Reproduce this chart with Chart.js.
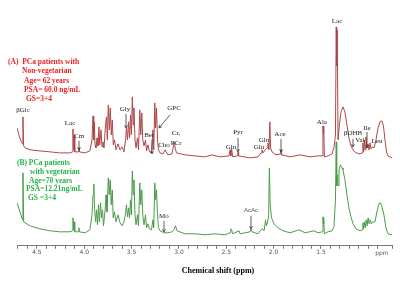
<!DOCTYPE html>
<html>
<head>
<meta charset="utf-8">
<script src="https://cdn.jsdelivr.net/npm/chart.js@4"></script>
<style>
  html, body { margin: 0; padding: 0; background: #fff; }
  canvas { display: block; }
</style>
</head>
<body>
<canvas id="nmr" width="400" height="300"></canvas>
<script>
// --- spectra: [ppm, intensity] ---
const spectrumA = [
  [4.71,118],[4.69,111],[4.668,105],[4.652,102],[4.647,129],[4.64,100],[4.625,98],[4.57,96],[4.47,95],[4.36,94],[4.26,93],[4.15,93],
  [4.124,94],[4.119,117],[4.113,96],[4.107,111],[4.10,94],[4.06,94],[4.055,98],[4.05,94],[3.99,93],[3.94,95],
  [3.918,106],[3.907,130],[3.90,106],[3.894,124],[3.886,101],[3.876,98],[3.865,108],[3.855,100],[3.845,119],[3.836,101],
  [3.823,116],[3.812,99],[3.802,104],[3.791,98],[3.775,121],[3.765,129],[3.756,106],[3.746,141],[3.735,116],[3.725,138],
  [3.714,111],[3.704,126],[3.693,101],[3.68,106],[3.665,96],[3.643,102],[3.622,96],[3.601,99],[3.58,94],[3.564,106],
  [3.554,118],[3.543,106],[3.532,124],[3.522,108],[3.511,131],[3.502,111],[3.492,149],[3.483,121],[3.475,138],[3.464,106],
  [3.453,98],[3.438,108],[3.427,96],[3.413,136],[3.403,111],[3.392,133],[3.382,106],[3.369,100],[3.353,106],[3.342,95],
  [3.327,101],[3.311,94],[3.29,93],[3.274,116],[3.266,96],[3.255,143],[3.247,118],[3.237,138],[3.226,106],[3.216,96],
  [3.2,93],[3.168,92],[3.147,96],[3.116,91],[3.073,92],[3.057,100],[3.05,104],[3.04,98],[3.026,93],[2.936,91],[2.83,90],
  [2.725,89],[2.65,91],[2.566,89],[2.471,90],[2.46,96],[2.452,90],[2.443,97],[2.433,89],[2.38,90],[2.375,94],[2.37,90],
  [2.25,88],[2.165,89],[2.133,93],[2.123,96],[2.112,93],[2.091,96],[2.07,98],[2.06,103],[2.049,96],[2.04,124],[2.032,98],
  [2.017,94],[1.975,91],[1.927,92],[1.922,96],[1.916,91],[1.827,89],[1.72,91],[1.616,89],[1.532,90],[1.486,90],[1.479,120],
  [1.475,112],[1.471,120],[1.464,89],[1.426,90],[1.384,92],[1.363,98],[1.347,111],[1.339,219],[1.334,180],[1.328,216],
  [1.32,106],[1.305,121],[1.289,134],[1.268,139],[1.247,134],[1.226,121],[1.205,108],[1.183,100],[1.162,96],[1.13,93],
  [1.088,92],[1.062,93],[1.057,103],[1.05,94],[1.042,106],[1.035,96],[1.025,109],[1.017,98],[1.004,102],[0.993,96],
  [0.983,103],[0.972,97],[0.956,99],[0.94,98],[0.919,106],[0.898,118],[0.877,124],[0.856,125],[0.84,120],[0.824,106],
  [0.808,94],[0.792,90],[0.75,88]
];

const spectrumB = [
  [4.71,43],[4.69,37],[4.668,31],[4.652,26],[4.647,73],[4.64,24],[4.625,23],[4.57,20],[4.47,17],[4.36,15],[4.26,14],[4.15,14],
  [4.124,15],[4.119,28],[4.113,16],[4.107,24],[4.10,14],[4.06,14],[4.056,18],[4.05,14],[3.99,13],[3.94,16],[3.918,31],
  [3.907,51],[3.899,62],[3.89,36],[3.88,24],[3.87,36],[3.86,21],[3.85,41],[3.84,24],[3.828,43],[3.818,28],[3.807,36],
  [3.797,20],[3.781,34],[3.77,51],[3.76,34],[3.746,68],[3.736,51],[3.726,66],[3.715,41],[3.704,56],[3.694,28],[3.68,34],
  [3.665,24],[3.643,31],[3.622,23],[3.601,20],[3.58,24],[3.564,32],[3.554,41],[3.543,29],[3.532,38],[3.522,28],[3.511,46],
  [3.502,31],[3.492,75],[3.483,51],[3.475,66],[3.464,31],[3.453,21],[3.438,31],[3.427,20],[3.413,63],[3.403,41],[3.392,56],
  [3.382,31],[3.369,21],[3.353,31],[3.342,18],[3.327,22],[3.311,17],[3.29,16],[3.274,26],[3.266,18],[3.255,63],[3.247,46],
  [3.237,56],[3.226,31],[3.216,18],[3.2,15],[3.158,13],[3.116,13],[3.073,14],[3.052,16],[3.036,20],[3.02,15],[2.936,12],
  [2.83,12],[2.725,11],[2.62,12],[2.514,11],[2.46,13],[2.452,17],[2.443,16],[2.433,12],[2.365,15],[2.355,12],[2.25,14],
  [2.239,17],[2.229,14],[2.165,12],[2.133,16],[2.117,17],[2.101,15],[2.085,26],[2.076,20],[2.064,24],[2.053,30],[2.045,78],
  [2.036,41],[2.022,28],[1.995,22],[1.953,18],[1.9,15],[1.827,13],[1.732,16],[1.669,13],[1.574,15],[1.532,13],[1.486,14],
  [1.479,29],[1.475,22],[1.471,28],[1.464,12],[1.426,14],[1.384,15],[1.363,19],[1.347,46],[1.339,104],[1.334,60],[1.328,71],
  [1.318,60],[1.31,76],[1.295,81],[1.278,78],[1.268,76],[1.247,66],[1.226,51],[1.205,38],[1.183,29],[1.162,22],[1.13,17],
  [1.088,15],[1.062,16],[1.057,23],[1.05,17],[1.042,24],[1.033,18],[1.022,26],[1.013,20],[1.002,28],[0.991,22],[0.98,26],
  [0.967,22],[0.951,24],[0.93,24],[0.909,34],[0.888,42],[0.872,43],[0.856,39],[0.835,31],[0.814,18],[0.792,12],[0.75,11]
];

const tickPpm = [4.5, 4.0, 3.5, 3.0, 2.5, 2.0, 1.5];

const legendA = ['(A)  PCa patients with', 'Non-vegetarian', 'Age= 62 years', 'PSA= 60.0 ng/mL', 'GS=3+4'];
const legendB = ['(B) PCa patients', 'with vegetarian', 'Age=70 years', 'PSA=12.21ng/mL', 'GS =3+4'];

// metabolite labels: text, ppm, intensity (label centre)
const peakNames = ['βGlc', 'Lac', 'Cm', 'Gly', 'GPC', 'Bet', 'Cho', 'Cr,', 'PCr', 'Gln', 'Pyr', 'Gln', 'Glu', 'Ace',
                   'Ala', 'Lac', 'βOHB', 'Val', 'Ile', 'Leu', 'Mo'];
const peakPpm   = [4.647, 4.15, 4.055, 3.57, 3.052, 3.316, 3.158, 3.03, 3.03, 2.45, 2.376, 2.102, 2.155, 1.933,
                   1.49, 1.33, 1.162, 1.088, 1.014, 0.909, 3.158];
const peakAt    = [136, 123, 110, 137, 138, 111, 101, 113, 103, 99, 114, 106, 99, 112,
                   124, 225, 113, 106, 118, 105, 30];

// arrows: [ppm from, int from, ppm to, int to]
const arrows = [
  [4.055, 105, 4.055, 96], [3.559, 132, 3.559, 118], [3.094, 131, 3.21, 118], [3.284, 106, 3.284, 92],
  [2.376, 108, 2.376, 94], [1.922, 107, 1.922, 94], [1.162, 107, 1.162, 99], [1.014, 114, 1.014, 98],
  [3.158, 25, 3.158, 14], [2.239, 30, 2.239, 17]
];

function arrow(ctx, x1, y1, x2, y2) {
  const a = Math.atan2(y2 - y1, x2 - x1), h = 3;
  ctx.beginPath();
  ctx.moveTo(x1, y1); ctx.lineTo(x2, y2);
  ctx.moveTo(x2 - h * Math.cos(a - 0.5), y2 - h * Math.sin(a - 0.5));
  ctx.lineTo(x2, y2);
  ctx.lineTo(x2 - h * Math.cos(a + 0.5), y2 - h * Math.sin(a + 0.5));
  ctx.stroke();
}

const notes = {
  id: 'notes',
  afterDraw(chart) {
    const { ctx, scales: { x, y } } = chart;
    ctx.save();
    ctx.textBaseline = 'middle';

    // legend blocks
    ctx.font = 'bold 7.5px "Liberation Serif"';
    ctx.fillStyle = '#f01e1e';
    ctx.textAlign = 'left';
    const offA = [8, 22, 24, 24, 26];
    legendA.forEach((t, i) => ctx.fillText(t, offA[i], 62 + i * 9.3));
    ctx.fillStyle = '#23b34a';
    const offB = [17, 30, 29, 26, 28];
    legendB.forEach((t, i) => ctx.fillText(t, offB[i], 163 + i * 8.8));

    // metabolite labels
    ctx.fillStyle = '#222';
    ctx.textAlign = 'center';
    ctx.font = '7px "Liberation Serif"';
    peakNames.forEach((t, i) => ctx.fillText(t, x.getPixelForValue(peakPpm[i]), y.getPixelForValue(peakAt[i])));
    ctx.font = '6px "Liberation Sans"';
    ctx.fillStyle = '#555';
    ctx.fillText('AcAc', x.getPixelForValue(2.239), y.getPixelForValue(35));

    ctx.strokeStyle = '#333';
    ctx.lineWidth = 0.8;
    arrows.forEach(a => arrow(ctx, x.getPixelForValue(a[0]), y.getPixelForValue(a[1]),
                                   x.getPixelForValue(a[2]), y.getPixelForValue(a[3])));

    // axis unit and title
    ctx.fillStyle = '#555';
    ctx.font = '6px "DejaVu Sans"';
    ctx.fillText('ppm', x.getPixelForValue(0.856), 253);
    ctx.fillStyle = '#000';
    ctx.font = 'bold 8px "Liberation Serif"';
    ctx.fillText('Chemical shift (ppm)', 218, 271);
    ctx.restore();
  }
};

new Chart(document.getElementById('nmr'), {
  type: 'line',
  data: {
    datasets: [
      {
        data: spectrumA.map(p => ({ x: p[0], y: p[1] })),
        borderColor: '#ad4848',
        borderWidth: 1,
        pointRadius: 0,
        tension: 0,
        fill: false
      },
      {
        data: spectrumB.map(p => ({ x: p[0], y: p[1] })),
        borderColor: '#4b9c4b',
        borderWidth: 1,
        pointRadius: 0,
        tension: 0,
        fill: false
      }
    ]
  },
  options: {
    responsive: false,
    animation: false,
    devicePixelRatio: 1,
    layout: { padding: { left: 17, right: 8, top: 6, bottom: 44 } },
    scales: {
      x: {
        type: 'linear',
        reverse: true,
        min: 0.75,
        max: 4.71,
        border: { color: '#777', width: 1 },
        grid: { drawOnChartArea: false, color: '#777', tickLength: 3 },
        ticks: {
          stepSize: 0.1,
          autoSkip: false,
          maxRotation: 0,
          padding: 0,
          color: '#555',
          font: { size: 6, family: 'DejaVu Sans' },
          callback: (v) => {
            const t = tickPpm.find(k => Math.abs(k - v) < 1e-6);
            return t === undefined ? '' : t.toFixed(1);
          }
        }
      },
      y: { display: false, min: 0, max: 240 }
    },
    plugins: { legend: { display: false }, tooltip: { enabled: false } }
  },
  plugins: [notes]
});
</script>
</body>
</html>
